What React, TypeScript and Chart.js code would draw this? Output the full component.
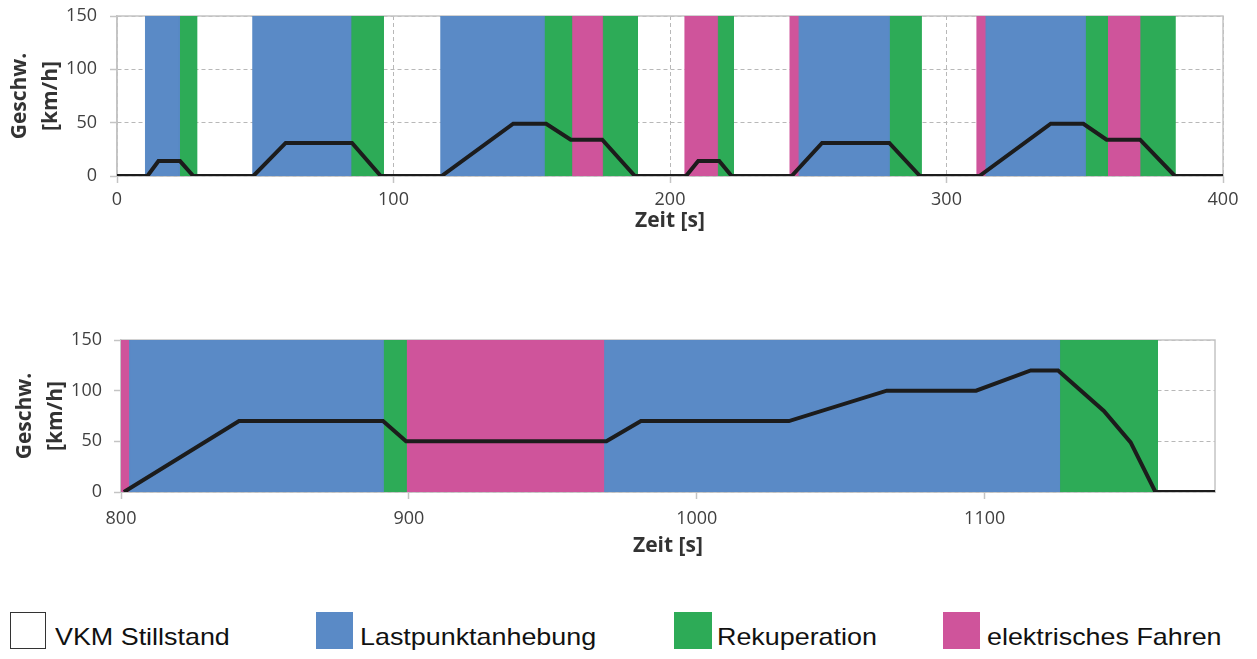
import React, { useEffect, useRef } from 'react';
import { Chart, registerables } from 'chart.js';

Chart.register(...registerables);

// ---------------- data ----------------
const legendLabels = ['VKM Stillstand', 'Lastpunktanhebung', 'Rekuperation', 'elektrisches Fahren'];
const yTicks = [0, 50, 100, 150];
const yTitle = ['Geschw.', '[km/h]'];
const xTitle = 'Zeit [s]';

const topXTicks = [0, 100, 200, 300, 400];
const bottomXTicks = [800, 900, 1000, 1100];
const bottomXMax = 1180;

// top panel speed trace
const topTime = [0, 11, 15, 22.8, 27.6, 49.3, 61, 85, 95.4, 117.4, 143.3, 155.2, 164.1, 175.5, 187.3, 205.8, 210.2, 217.8, 222.3, 244, 255, 279.3, 290.4, 311.9, 337.7, 349.5, 357.9, 370, 382.6, 400];
const topSpeed = [0, 0, 14, 14, 0, 0, 31, 31, 0, 0, 49, 49, 34, 34, 0, 0, 14, 14, 0, 0, 31, 31, 0, 0, 49, 49, 34, 34, 0, 0];

// top panel operating-mode intervals [start, end] in s
const topLastpunkt = [[10.3, 22.5], [49.1, 84.5], [117.1, 154.4], [246.7, 279.2], [314.3, 350.1]];
const topRekuperation = [[22.5, 28.8], [84.5, 96.3], [154.4, 164.4], [175.9, 188.2], [217.5, 222.9], [279.2, 290.8], [350.1, 358.2], [370.3, 382.6]];
const topElektrisch = [[164.4, 175.9], [205.4, 217.5], [243.4, 246.7], [311.0, 314.3], [358.2, 370.3]];

// bottom panel speed trace
const bottomTime = [801, 841, 891, 899, 968.6, 980.6, 1032, 1066, 1097, 1116, 1125.5, 1141.4, 1150.7, 1159.3, 1180];
const bottomSpeed = [0, 70, 70, 50, 50, 70, 70, 100, 100, 120, 120, 80, 49, 0, 0];

// bottom panel operating-mode intervals
const bottomLastpunkt = [[803, 891], [968, 1126]];
const bottomRekuperation = [[891, 899], [1126, 1160]];
const bottomElektrisch = [[800, 803], [899, 968]];

// ---------------- styles ----------------
const BLUE = '#5a8ac6';
const GREEN = '#2dab57';
const PINK = '#cf549b';
const LINE = '#1c1c1c';
const GRID = '#b8b8b8';
const FRAME = '#c4c4c4';
const FONT = "'Open Sans', sans-serif";

const framePlugin = {
  id: 'frame',
  beforeDatasetsDraw(chart: any) {
    const { ctx, chartArea: a } = chart;
    ctx.save();
    ctx.strokeStyle = FRAME;
    ctx.lineWidth = 1.5;
    ctx.strokeRect(a.left, a.top, a.right - a.left, a.bottom - a.top);
    ctx.restore();
  },
};

function bandSets(bands: number[][], color: string, label: string) {
  const lo = yTicks[0];
  const hi = yTicks[yTicks.length - 1];
  return bands.map(([a, b]) => ({
    label,
    data: [{ x: a, y: lo }, { x: a, y: hi }, { x: b, y: hi }, { x: b, y: lo }],
    backgroundColor: color,
    borderColor: color,
    borderWidth: 1,
    pointRadius: 0,
    fill: 'origin',
    tension: 0,
  }));
}

type Panel = {
  time: number[];
  speed: number[];
  lp: number[][];
  rk: number[][];
  el: number[][];
  xTicks: number[];
  xMax: number;
  padTop: number;
  padRight: number;
  yWidth: number;
  xHeight: number;
  yTickPad: number;
  xTickPad: number;
  yTitlePad: number;
  xTitlePad: number;
};

function zeroPad(s: any) {
  s.paddingTop = 0;
  s.paddingBottom = 0;
  s.paddingLeft = 0;
  s.paddingRight = 0;
}

function buildChart(canvas: HTMLCanvasElement, p: Panel) {
  const speedSet = {
    label: 'speed',
    data: p.time.map((t, i) => ({ x: t, y: p.speed[i] })),
    borderColor: LINE,
    borderWidth: 4,
    pointRadius: 0,
    fill: false,
    tension: 0,
  };
  const datasets: any[] = [
    speedSet,
    ...bandSets(p.lp, BLUE, legendLabels[1]),
    ...bandSets(p.rk, GREEN, legendLabels[2]),
    ...bandSets(p.el, PINK, legendLabels[3]),
  ];
  const step = p.xTicks[1] - p.xTicks[0];
  return new Chart(canvas, {
    type: 'line',
    data: { datasets },
    plugins: [framePlugin],
    options: {
      animation: false,
      responsive: false,
      events: [],
      layout: { padding: { top: p.padTop, right: p.padRight, left: 0, bottom: 0 } },
      plugins: { legend: { display: false }, tooltip: { enabled: false } },
      scales: {
        x: {
          type: 'linear',
          min: p.xTicks[0],
          max: p.xMax,
          afterFit: (s: any) => { s.height = p.xHeight; zeroPad(s); },
          ticks: {
            stepSize: step,
            includeBounds: false,
            padding: p.xTickPad,
            color: '#404040',
            font: { family: FONT, size: 18 },
            maxRotation: 0,
            callback: (v: any) => String(v),
          },
          grid: { color: GRID, lineWidth: 1, tickLength: 7, tickColor: FRAME, tickWidth: 1.5 },
          border: { display: true, color: FRAME, width: 1.5, dash: [4, 3] },
          title: {
            display: true,
            text: xTitle,
            color: '#333333',
            font: { family: FONT, size: 21, weight: 'bold', lineHeight: 1.2 },
            padding: { top: 0, bottom: p.xTitlePad },
          },
        },
        y: {
          type: 'linear',
          min: yTicks[0],
          max: yTicks[yTicks.length - 1],
          afterFit: (s: any) => { s.width = p.yWidth; zeroPad(s); },
          ticks: {
            stepSize: yTicks[1] - yTicks[0],
            padding: p.yTickPad,
            color: '#404040',
            font: { family: FONT, size: 18 },
            callback: (v: any) => String(v),
          },
          grid: { color: GRID, lineWidth: 1, tickLength: 7, tickColor: FRAME, tickWidth: 1.5 },
          border: { display: true, color: FRAME, width: 1.5, dash: [4, 3] },
          title: {
            display: true,
            text: yTitle,
            color: '#333333',
            font: { family: FONT, size: 21, weight: 'bold', lineHeight: 1.45 },
            padding: { top: p.yTitlePad, bottom: 0 },
          },
        },
      },
    } as any,
  });
}

function ChartPanel({ panel, top, height }: { panel: Panel; top: number; height: number }) {
  const ref = useRef<HTMLCanvasElement | null>(null);
  useEffect(() => {
    if (!ref.current) return;
    const c = buildChart(ref.current, panel);
    return () => c.destroy();
  }, []);
  return (
    <canvas
      ref={ref}
      width={1257}
      height={height}
      style={{ position: 'absolute', left: 0, top, width: 1257, height }}
    />
  );
}

const topPanel: Panel = {
  time: topTime, speed: topSpeed, lp: topLastpunkt, rk: topRekuperation, el: topElektrisch,
  xTicks: topXTicks, xMax: topXTicks[topXTicks.length - 1],
  padTop: 16, padRight: 34, yWidth: 117, xHeight: 64,
  yTickPad: 13, xTickPad: 6, yTitlePad: 5, xTitlePad: 6,
};

const bottomPanel: Panel = {
  time: bottomTime, speed: bottomSpeed, lp: bottomLastpunkt, rk: bottomRekuperation, el: bottomElektrisch,
  xTicks: bottomXTicks, xMax: bottomXMax,
  padTop: 40, padRight: 42, yWidth: 121, xHeight: 78,
  yTickPad: 12, xTickPad: 9, yTitlePad: 10, xTitlePad: 11,
};

const legendItems = [
  { label: legendLabels[0], color: '#ffffff', box: [10, 46], text: 55, border: true },
  { label: legendLabels[1], color: BLUE, box: [316, 353], text: 360, border: false },
  { label: legendLabels[2], color: GREEN, box: [674, 712], text: 717, border: false },
  { label: legendLabels[3], color: PINK, box: [943, 980], text: 987, border: false },
];

export default function App() {
  return (
    <div style={{ position: 'fixed', left: 0, top: 0, width: 1257, height: 659, background: '#ffffff', overflow: 'hidden' }}>
      <ChartPanel panel={topPanel} top={0} height={240} />
      <ChartPanel panel={bottomPanel} top={300} height={270} />
      {legendItems.map((it) => (
        <React.Fragment key={it.label}>
          <div
            style={{
              position: 'absolute',
              left: it.box[0],
              top: 612,
              width: it.box[1] - it.box[0],
              height: 37,
              background: it.color,
              boxSizing: 'border-box',
              border: it.border ? '1.5px solid #333' : 'none',
            }}
          />
          <div
            style={{
              position: 'absolute',
              left: it.text,
              top: 625,
              fontFamily: "'Liberation Sans', Arial, sans-serif",
              fontSize: 24,
              lineHeight: '24px',
              color: '#111',
              whiteSpace: 'nowrap',
              transform: 'scaleX(1.12)',
              transformOrigin: 'left center',
            }}
          >
            {it.label}
          </div>
        </React.Fragment>
      ))}
    </div>
  );
}
